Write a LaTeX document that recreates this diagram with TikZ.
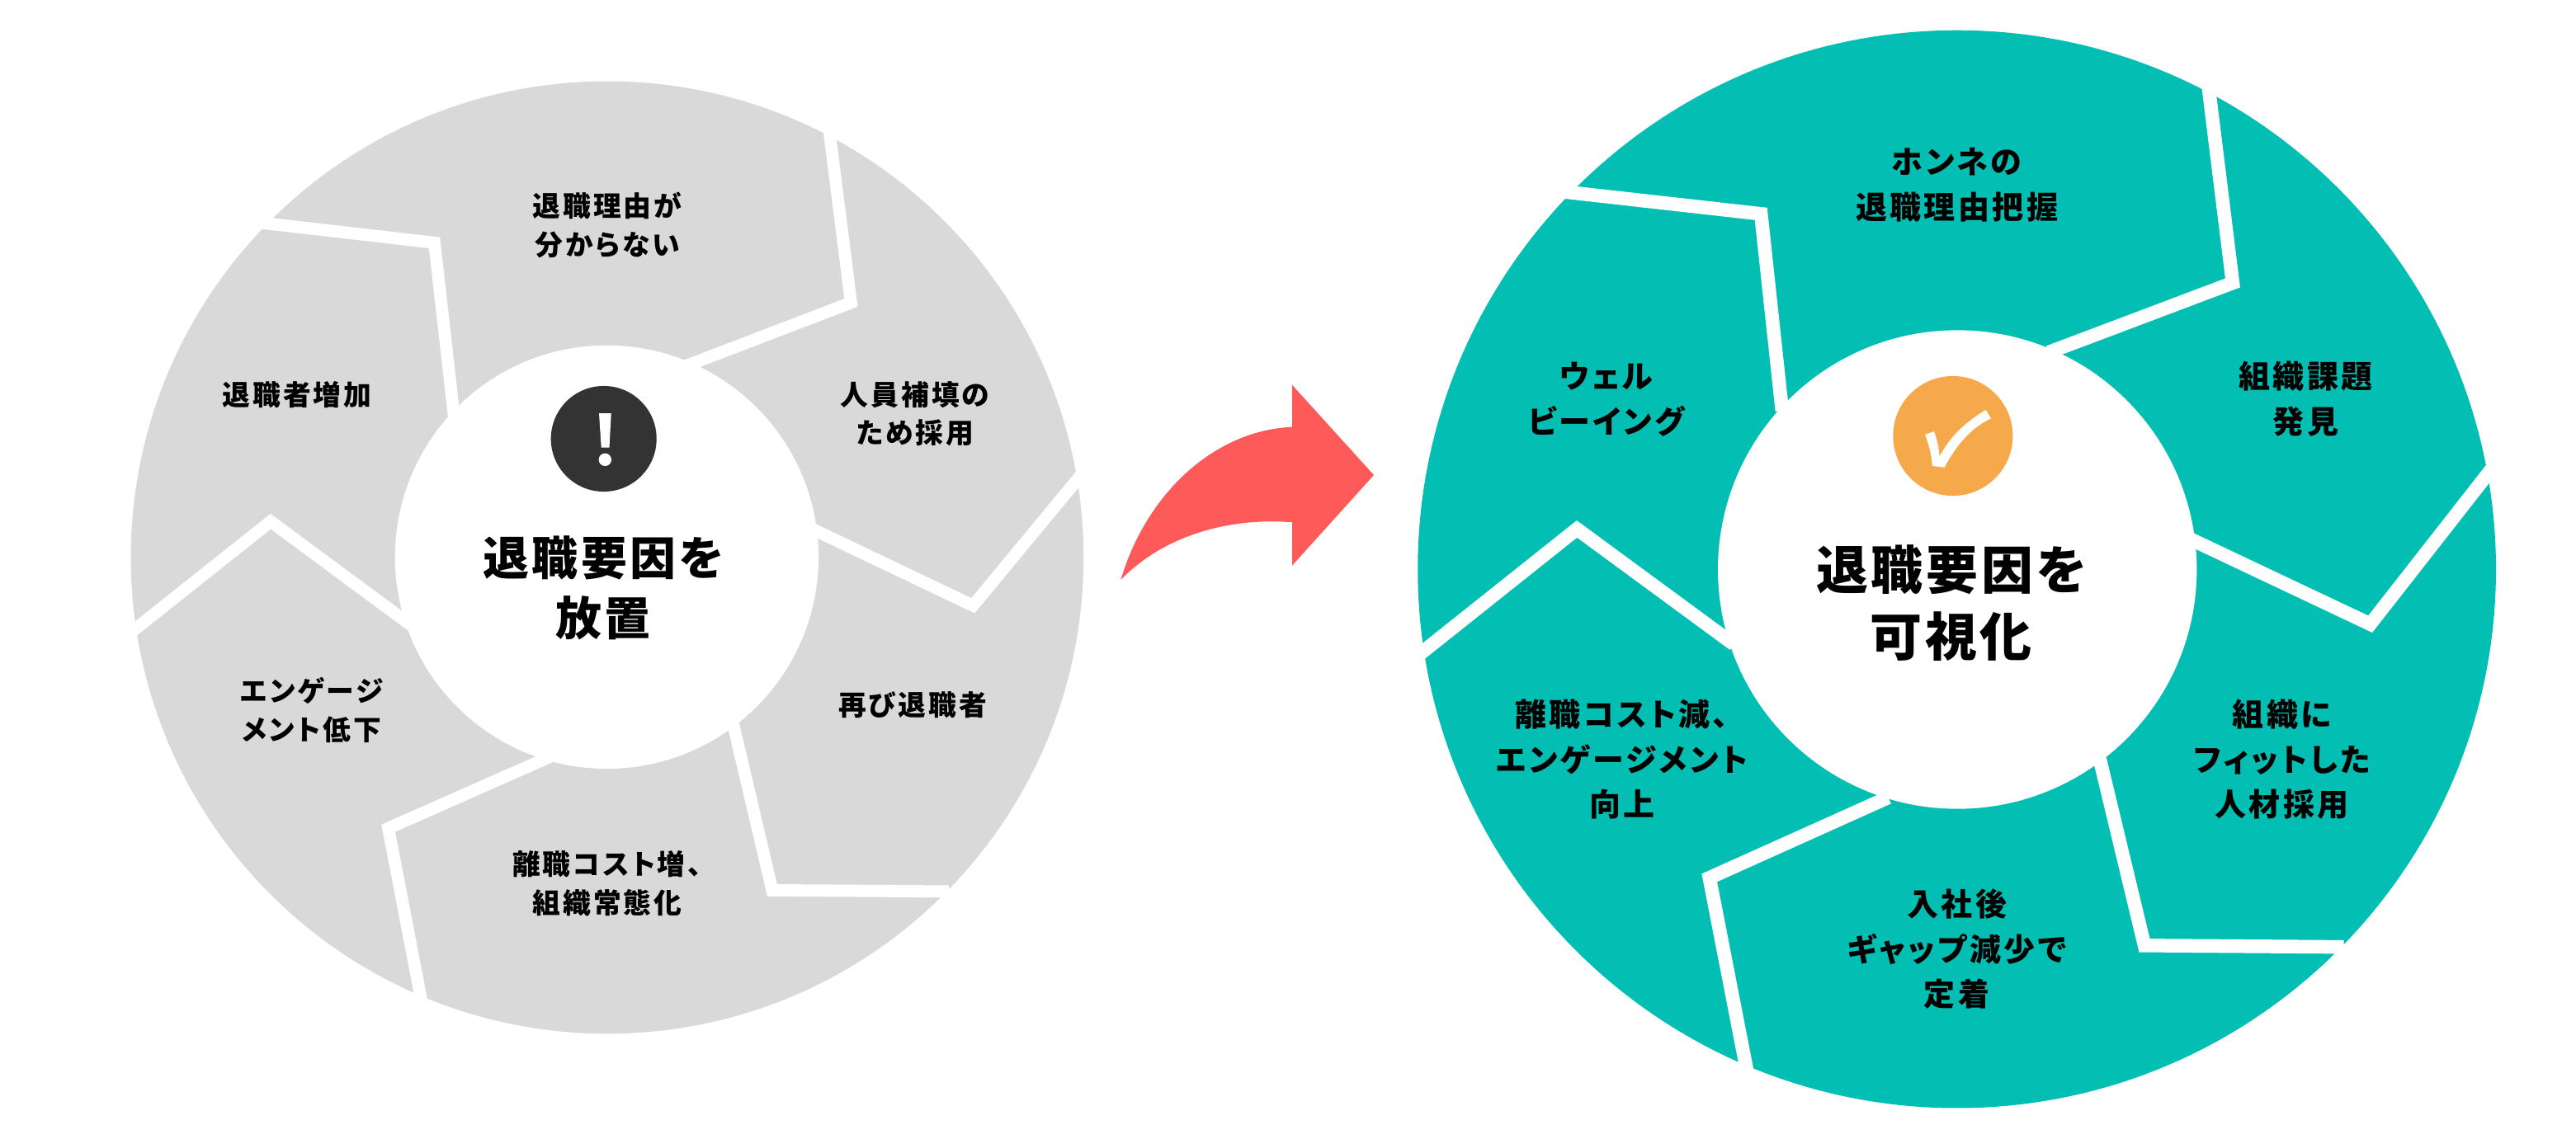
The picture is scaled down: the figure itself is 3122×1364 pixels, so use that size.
\documentclass[tikz,border=0pt]{standalone}
\usepackage{fontspec}
\usepackage{tikz}
\setmainfont{Noto Sans CJK JP}
\newfontfamily\jplabel{Noto Sans CJK JP}[LetterSpace=9,RawFeature=+palt]
\newfontfamily\jptitle{Noto Sans CJK JP}[LetterSpace=6,RawFeature=+palt]
\definecolor{wheelgrey}{HTML}{D9D9D9}
\definecolor{wheelteal}{HTML}{03BFB3}
\definecolor{arrowred}{HTML}{FF5A5A}
\definecolor{tickorange}{HTML}{F5A94A}
\definecolor{markdark}{HTML}{333333}

\begin{document}
\begin{tikzpicture}[x=0.01cm,y=-0.01cm]
\tikzstyle{disc}=[circle,inner sep=0pt,outer sep=0pt]
\tikzstyle{cut}=[draw=white,line width=0.148cm,line cap=rect,miter limit=10]
\tikzstyle{bigcut}=[cut,line width=0.165cm]
\tikzstyle{smalllabel}=[align=center,inner sep=0pt,font=\jplabel\bfseries\fontsize{9.6}{13.3}\selectfont]
\tikzstyle{biglabel}=[align=center,inner sep=0pt,font=\jplabel\bfseries\fontsize{10.8}{15.56}\selectfont]
\tikzstyle{smalltitle}=[align=center,inner sep=0pt,font=\jptitle\bfseries\fontsize{15.9}{20.7}\selectfont]
\tikzstyle{bigtitle}=[align=center,inner sep=0pt,font=\jptitle\bfseries\fontsize{17.9}{23.1}\selectfont]
\useasboundingbox (0,0) rectangle (3122,1364);

% left wheel
\node[disc,fill=wheelgrey,minimum size=11.54cm] (leftwheel) at (735.9,675.9) {};
\foreach \a/\b/\c/\d/\e/\f in {1005.5/162.6/1031.4/367/837.9/441.1,
    1309/577.4/1179.2/734.3/991.6/644.8,
    1142.5/1080.8/935.9/1079.4/889.9/883.6,
    660.3/920.3/470.6/1004.2/510.4/1211.2,
    492/753.5/328/632.2/162.9/763.5,
    323.7/271/526.5/294.3/549.4/496.9}
  \draw[cut] (\a,\b) -- (\c,\d) -- (\e,\f);
\node[disc,fill=white,minimum size=5.13cm] (lefthub) at (735.4,675.4) {};

\node[smalllabel] (leftA) at (735.9,273) {退職理由が\\分からない};
\node[smalllabel] (leftB) at (1109,501.8) {人員補填の\\ため採用};
\node[smalllabel] (leftC) at (1106,855) {再び退職者};
\node[smalllabel] (leftD) at (735.9,1070.9) {離職コスト増、\\組織常態化};
\node[smalllabel] (leftE) at (377.8,861) {エンゲージ\\メント低下};
\node[smalllabel] (leftF) at (359.9,478.9) {退職者増加};
\node[smalltitle] (lefttitle) at (731,713.2) {退職要因を\\放置};

% warning mark
\node[disc,fill=markdark,minimum size=1.28cm] (warn) at (731.7,532) {};
\fill[white] (726,501) -- (740.7,501) -- (738.5,542.7) -- (728.7,542.7) -- cycle;
\fill[white] (733.3,557.3) circle (7.7);

% arrow
\fill[arrowred] (1358.3,703) .. controls (1390,596.7) and (1473,521.7) .. (1566,517.7)
  -- (1566,466.7) -- (1665,576) -- (1566,685.7) -- (1566,633.3)
  .. controls (1483,626.7) and (1406.7,653) .. cycle;

% right wheel
\node[disc,fill=wheelteal,minimum size=13.06cm] (rightwheel) at (2371.6,690.1) {};
\foreach \a/\b/\c/\d/\e/\f in {2676.9/108.1/2705.9/343/2490.5/424.3,
    3014.3/575.5/2872.6/756.7/2661.4/656.8,
    2832.3/1148.1/2599/1146.3/2546.1/925.9,
    2281/970.2/2071.7/1064.3/2116.2/1293.3,
    2094.8/776.4/1911.1/641.4/1725.7/789.1,
    1905/233.6/2134.2/259.3/2159/490}
  \draw[bigcut] (\a,\b) -- (\c,\d) -- (\e,\f);
\node[disc,fill=white,minimum size=5.8cm] (righthub) at (2372.2,690.5) {};

\node[biglabel] (rightA) at (2371.6,224) {ホンネの\\退職理由把握};
\node[biglabel] (rightB) at (2794.5,484) {組織課題\\発見};
\node[biglabel] (rightC) at (2765.6,920.7) {組織に\\フィットした\\人材採用};
\node[biglabel] (rightD) at (2371.6,1150.7) {入社後\\ギャップ減少で\\定着};
\node[biglabel] (rightE) at (1965.7,920.7) {離職コスト減、\\エンゲージメント\\向上};
\node[biglabel] (rightF) at (1946.8,484) {ウェル\\ビーイング};
\node[bigtitle] (righttitle) at (2364.6,731.4) {退職要因を\\可視化};

% check mark
\node[disc,fill=tickorange,minimum size=1.45cm] (tick) at (2366.8,528.5) {};
\begin{scope}[shift={(2366.8,528.5)}]
\fill[white] (-33.8,-1.5) -- (-22.8,-5.5) .. controls (-19,5) and (-17,15) .. (-16.2,24.8)
  .. controls (-6,6) and (9,-13) .. (39.8,-31.5) -- (46.2,-21.2)
  .. controls (20,-9) and (2,15) .. (-10.2,38.2) -- (-24.8,36.5)
  .. controls (-26,25) and (-28,13) .. cycle;
\end{scope}
\end{tikzpicture}
\end{document}
